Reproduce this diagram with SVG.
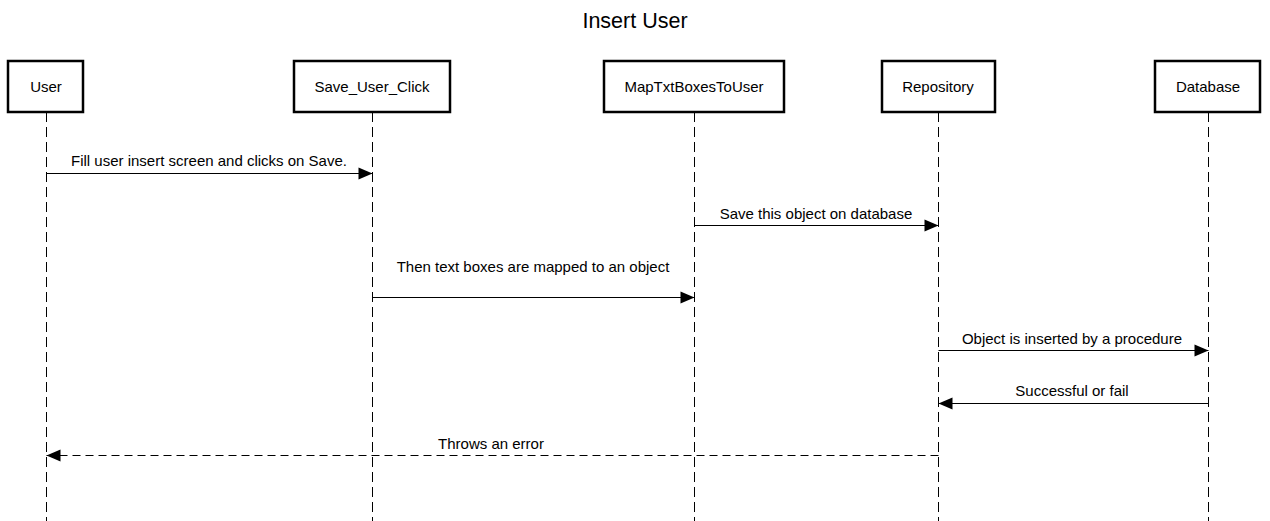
<svg xmlns="http://www.w3.org/2000/svg" width="1270" height="521" viewBox="0 0 1270 521">
<style>
.actor{fill:#fff;stroke:#000;stroke-width:2.5}
.life{stroke:#000;stroke-width:1;stroke-dasharray:10,5}
.msg{stroke:#000;stroke-width:1;fill:none}
.dash{stroke-dasharray:8,5}
text{font-family:"Liberation Sans",Arial,sans-serif;fill:#000}
.at{font-size:15px;text-anchor:middle}
.mt{font-size:15px;text-anchor:middle}
</style>
<defs>
<marker id="ah" markerWidth="16" markerHeight="14" refX="15" refY="7" orient="auto" markerUnits="userSpaceOnUse">
<path d="M1,1 L15,7 L1,13 Z" fill="#000"/>
</marker>
</defs>
<rect width="1270" height="521" fill="#fff"/>
<text x="635" y="28" font-size="21.5" text-anchor="middle">Insert User</text>
<g id="lifelines">
<line class="life" x1="46.5" y1="112" x2="46.5" y2="521"/>
<line class="life" x1="372.5" y1="112" x2="372.5" y2="521"/>
<line class="life" x1="694.5" y1="112" x2="694.5" y2="521"/>
<line class="life" x1="938.5" y1="112" x2="938.5" y2="521"/>
<line class="life" x1="1208.5" y1="112" x2="1208.5" y2="521"/>
</g>
<g id="User"><rect class="actor" x="8" y="61" width="75" height="51"/><text class="at" x="46" y="92">User</text></g>
<g id="Save_User_Click"><rect class="actor" x="294" y="61" width="156" height="51"/><text class="at" x="372" y="92">Save_User_Click</text></g>
<g id="MapTxtBoxesToUser"><rect class="actor" x="604" y="61" width="180" height="51"/><text class="at" x="694" y="92">MapTxtBoxesToUser</text></g>
<g id="Repository"><rect class="actor" x="882" y="61" width="113" height="51"/><text class="at" x="938" y="92">Repository</text></g>
<g id="Database"><rect class="actor" x="1155" y="61" width="105" height="51"/><text class="at" x="1208" y="92">Database</text></g>
<g id="connectors">
<line class="msg" x1="46.5" y1="173.5" x2="372.5" y2="173.5" marker-end="url(#ah)"/>
<text class="mt" x="209" y="166">Fill user insert screen and clicks on Save.</text>
<line class="msg" x1="694.5" y1="225.5" x2="938.5" y2="225.5" marker-end="url(#ah)"/>
<text class="mt" x="816" y="219">Save this object on database</text>
<line class="msg" x1="372.5" y1="297.5" x2="694.5" y2="297.5" marker-end="url(#ah)"/>
<text class="mt" x="533" y="272">Then text boxes are mapped to an object</text>
<line class="msg" x1="938.5" y1="350.5" x2="1208.5" y2="350.5" marker-end="url(#ah)"/>
<text class="mt" x="1072" y="344">Object is inserted by a procedure</text>
<line class="msg" x1="1208.5" y1="403.5" x2="938.5" y2="403.5" marker-end="url(#ah)"/>
<text class="mt" x="1072" y="396">Successful or fail</text>
<line class="msg dash" x1="938.5" y1="455.5" x2="46.5" y2="455.5" marker-end="url(#ah)"/>
<text class="mt" x="491" y="449">Throws an error</text>
</g>
</svg>
